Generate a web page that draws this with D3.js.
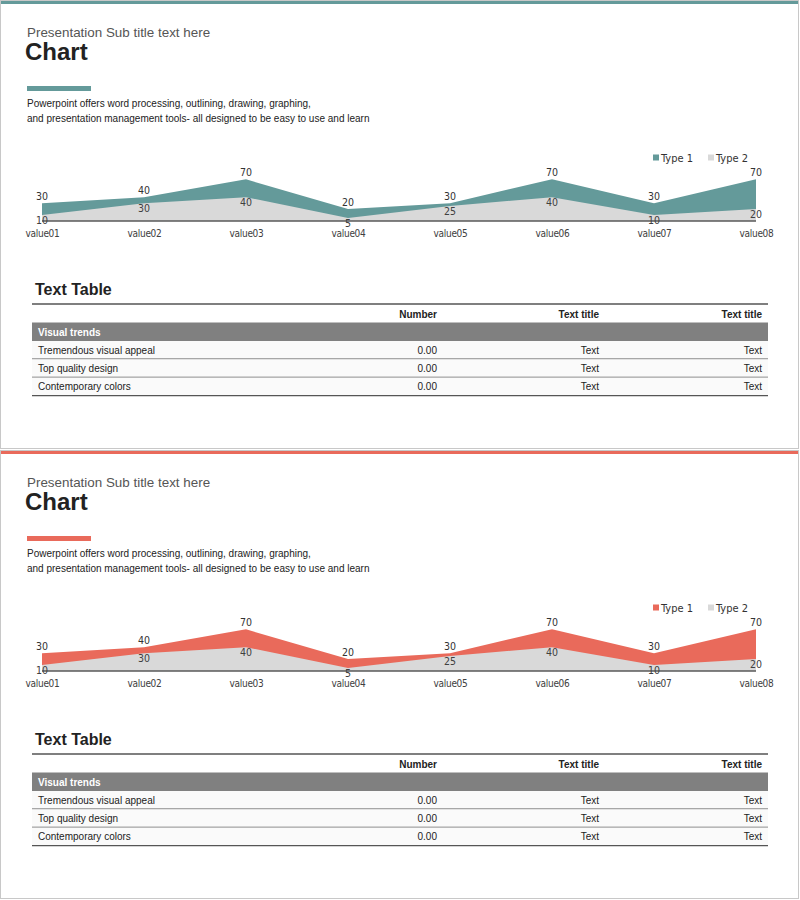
<!DOCTYPE html>
<html>
<head>
<meta charset="utf-8">
<script src="https://cdn.jsdelivr.net/npm/d3@7"></script>
<style>
  body { margin: 0; background: #fff; }
  svg { display: block; font-family: "Liberation Sans", Arial, sans-serif; }
</style>
</head>
<body>
<svg id="page" width="800" height="900"></svg>
<script>
// chart data
var categories = ['value01', 'value02', 'value03', 'value04', 'value05', 'value06', 'value07', 'value08'];
var type1 = [30, 40, 70, 20, 30, 70, 30, 70];
var type2 = [10, 30, 40, 5, 25, 40, 10, 20];
var seriesNames = ['Type 1', 'Type 2'];

// table data
var tableHeaders = ['', 'Number', 'Text title', 'Text title'];
var groupLabel = 'Visual trends';
var rowLabels = ['Tremendous visual appeal', 'Top quality design', 'Contemporary colors'];
var rowNumbers = ['0.00', '0.00', '0.00'];
var rowText1 = ['Text', 'Text', 'Text'];
var rowText2 = ['Text', 'Text', 'Text'];

var themes = ['#649a9a', '#e96a5b'];

var svg = d3.select('#page');
var panelH = 450;
var lblFont = '"DejaVu Sans Condensed", "DejaVu Sans", sans-serif';

function drawPanel(idx, color) {
  var g = svg.append('g').attr('transform', 'translate(0,' + (idx * panelH) + ')');

  // frame
  g.append('rect')
    .attr('x', 0.5).attr('y', 0.5)
    .attr('width', 798).attr('height', panelH - 2)
    .attr('fill', 'none').attr('stroke', '#c8c8c8');
  g.append('rect')
    .attr('x', 1).attr('y', 1)
    .attr('width', 797).attr('height', 3)
    .attr('fill', color);

  // headings
  g.append('text')
    .attr('x', 27).attr('y', 37)
    .attr('font-size', 13.4).attr('fill', '#555')
    .text('Presentation Sub title text here');
  g.append('text')
    .attr('x', 25).attr('y', 60)
    .attr('font-size', 24).attr('font-weight', 'bold').attr('fill', '#222')
    .text('Chart');
  g.append('rect')
    .attr('x', 27).attr('y', 86)
    .attr('width', 64).attr('height', 5)
    .attr('fill', color);
  var desc = g.append('text')
    .attr('font-size', 10).attr('fill', '#222');
  desc.append('tspan').attr('x', 27).attr('y', 107)
    .text('Powerpoint offers word processing, outlining, drawing, graphing,');
  desc.append('tspan').attr('x', 27).attr('y', 122)
    .text('and presentation management tools- all designed to be easy to use and learn');

  // chart
  var x = d3.scalePoint().domain(categories).range([42, 756]);
  var y = d3.scaleLinear().domain([0, 70]).range([221, 179.3]);

  var data = categories.map(function(c, i) {
    return { cat: c, a: type1[i], b: type2[i] };
  });

  var areaA = d3.area()
    .x(function(d) { return x(d.cat); })
    .y0(y(0))
    .y1(function(d) { return y(d.a); });
  var areaB = d3.area()
    .x(function(d) { return x(d.cat); })
    .y0(y(0))
    .y1(function(d) { return y(d.b); });

  g.append('path').datum(data).attr('d', areaA).attr('fill', color);
  g.append('path').datum(data).attr('d', areaB).attr('fill', '#d9d9d9');

  var axis = g.append('g')
    .attr('transform', 'translate(0,' + y(0) + ')')
    .call(d3.axisBottom(x).tickSize(0).tickPadding(9));
  axis.select('.domain').attr('stroke', '#595959').attr('stroke-width', 1.5)
    .attr('d', 'M' + x(categories[0]) + ',0H' + x(categories[categories.length - 1]));
  axis.selectAll('text')
    .attr('font-size', 10).attr('fill', '#404040')
    .attr('font-family', lblFont)
    .attr('letter-spacing', -0.3);

  g.selectAll('.lblA').data(data).enter().append('text')
    .attr('x', function(d) { return x(d.cat); })
    .attr('y', function(d) { return y(d.a) - 3; })
    .attr('text-anchor', 'middle')
    .attr('font-size', 10.5).attr('font-family', lblFont).attr('fill', '#333')
    .text(function(d) { return d.a; });
  g.selectAll('.lblB').data(data).enter().append('text')
    .attr('x', function(d) { return x(d.cat); })
    .attr('y', function(d) { return y(d.b) + 8.5; })
    .attr('text-anchor', 'middle')
    .attr('font-size', 10.5).attr('font-family', lblFont).attr('fill', '#404040')
    .text(function(d) { return d.b; });

  // legend
  var legendX = [653, 708];
  var legColors = [color, '#d9d9d9'];
  seriesNames.forEach(function(name, i) {
    g.append('rect')
      .attr('x', legendX[i]).attr('y', 154.5)
      .attr('width', 6).attr('height', 6)
      .attr('fill', legColors[i]);
    g.append('text')
      .attr('x', legendX[i] + 8).attr('y', 161.5)
      .attr('font-size', 11).attr('font-family', lblFont).attr('fill', '#333')
      .text(name);
  });

  // table
  g.append('text')
    .attr('x', 35).attr('y', 295)
    .attr('font-size', 16).attr('font-weight', 'bold').attr('fill', '#222')
    .text('Text Table');

  var tx0 = 32, tx1 = 768;
  var colRight = [null, 437, 599, 762];

  g.append('line')
    .attr('x1', tx0).attr('x2', tx1).attr('y1', 304).attr('y2', 304)
    .attr('stroke', '#555').attr('stroke-width', 1.5);

  tableHeaders.forEach(function(h, i) {
    if (!h) return;
    g.append('text')
      .attr('x', colRight[i]).attr('y', 317.5)
      .attr('text-anchor', 'end')
      .attr('font-size', 10).attr('font-weight', 'bold').attr('fill', '#222')
      .text(h);
  });

  g.append('rect')
    .attr('x', tx0).attr('y', 322.5)
    .attr('width', tx1 - tx0).attr('height', 18.5)
    .attr('fill', '#808080');
  g.append('text')
    .attr('x', 38).attr('y', 335.5)
    .attr('font-size', 10).attr('font-weight', 'bold').attr('fill', '#fff')
    .text(groupLabel);

  var rowTop = 341, rowH = 18.2;
  rowLabels.forEach(function(lbl, i) {
    var ry = rowTop + i * rowH;
    g.append('rect')
      .attr('x', tx0).attr('y', ry)
      .attr('width', tx1 - tx0).attr('height', rowH)
      .attr('fill', '#fafafa');
    g.append('line')
      .attr('x1', tx0).attr('x2', tx1)
      .attr('y1', ry + rowH).attr('y2', ry + rowH)
      .attr('stroke', '#555').attr('stroke-width', 1.3);
    var by = ry + 12.8;
    g.append('text').attr('x', 38).attr('y', by)
      .attr('font-size', 10).attr('fill', '#222').text(lbl);
    [rowNumbers[i], rowText1[i], rowText2[i]].forEach(function(v, j) {
      g.append('text').attr('x', colRight[j + 1]).attr('y', by)
        .attr('text-anchor', 'end')
        .attr('font-size', 10).attr('fill', '#222').text(v);
    });
  });
}

themes.forEach(function(c, i) { drawPanel(i, c); });
</script>
</body>
</html>
